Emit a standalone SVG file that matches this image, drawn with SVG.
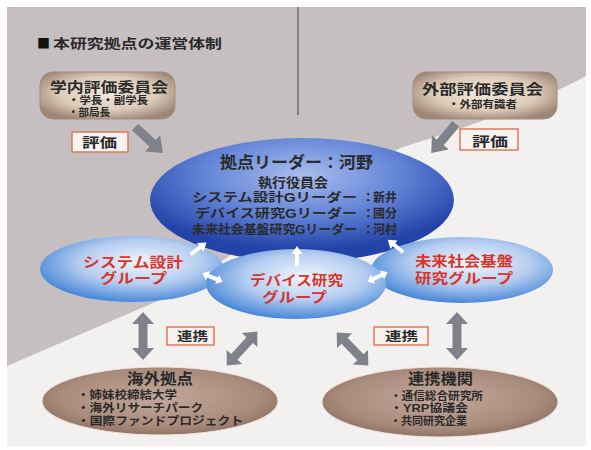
<svg xmlns="http://www.w3.org/2000/svg" width="591" height="450" viewBox="0 0 591 450">
<defs>
<style>
text{font-family:"Liberation Sans","Noto Sans CJK JP",sans-serif;font-weight:bold;fill:#2b2a2b}
.cjk{font-family:"Noto Sans CJK JP",sans-serif}
.red{fill:#d9342b}
.tag{fill:#f6f3f0;stroke:#e0785a;stroke-width:1.5}
.garrow{fill:#7f828a}
.warrow{fill:#ffffff}
</style>
<radialGradient id="gBox" cx="0.5" cy="0.45" r="0.6">
<stop offset="0" stop-color="#f1e8dc"/><stop offset="0.6" stop-color="#dccbb8"/><stop offset="1" stop-color="#9e8676"/>
</radialGradient>
<radialGradient id="gBlue" cx="0.5" cy="0.3" r="0.6">
<stop offset="0" stop-color="#a9bdee"/><stop offset="0.55" stop-color="#6283d6"/><stop offset="1" stop-color="#2343a8"/>
</radialGradient>
<radialGradient id="gGroup" cx="0.55" cy="0.4" r="0.6">
<stop offset="0" stop-color="#f2f6fc"/><stop offset="0.55" stop-color="#b5cdf0"/><stop offset="1" stop-color="#4a89d8"/>
</radialGradient>
<radialGradient id="gBrown" cx="0.5" cy="0.45" r="0.6">
<stop offset="0" stop-color="#c2a89b"/><stop offset="0.7" stop-color="#a98b7c"/><stop offset="1" stop-color="#8a6c5e"/>
</radialGradient>
<path id="dbl" d="M-24,0 L-12,-11 L-12,-4.5 L12,-4.5 L12,-11 L24,0 L12,11 L12,4.5 L-12,4.5 L-12,11 Z"/>
<path id="sgl" d="M-19,-4.5 L5,-4.5 L5,-11 L19,0 L5,11 L5,4.5 L-19,4.5 Z"/>
<path id="wsgl" d="M-10,-2 L2,-2 L2,-5.5 L10,0 L2,5.5 L2,2 L-10,2 Z"/>
<path id="wdbl" d="M-11,0 L-5,-5 L-5,-2 L5,-2 L5,-5 L11,0 L5,5 L5,2 L-5,2 L-5,5 Z"/>
</defs>

<rect width="591" height="450" fill="#ffffff"/>
<rect x="7" y="7" width="579" height="439" fill="#c6bfc1"/>
<path d="M586,76 C545,98 480,124 400,148 L160,300 L7,366 L7,446 L586,446 Z" fill="#f2f1ef"/>
<line x1="298" y1="7" x2="298" y2="115" stroke="#6d6a6b" stroke-width="1.5"/>

<text x="37" y="48" font-size="13"><tspan class="cjk" fill="#111">■</tspan><tspan x="53" textLength="169" lengthAdjust="spacingAndGlyphs">本研究拠点の運営体制</tspan></text>

<g id="internal-eval">
<rect x="40" y="72" width="135" height="47" rx="13" fill="url(#gBox)" stroke="#a38d7c" stroke-width="1"/>
<text x="50" y="92" font-size="14" textLength="118" lengthAdjust="spacingAndGlyphs">学内評価委員会</text>
<text x="68" y="104" font-size="10.5" textLength="80" lengthAdjust="spacingAndGlyphs">・学長・副学長</text>
<text x="68" y="116" font-size="10.5" textLength="42" lengthAdjust="spacingAndGlyphs">・部局長</text>
</g>

<g id="external-eval">
<rect x="413" y="72" width="144" height="47" rx="13" fill="url(#gBox)" stroke="#a38d7c" stroke-width="1"/>
<text x="422" y="94" font-size="14" textLength="121" lengthAdjust="spacingAndGlyphs">外部評価委員会</text>
<text x="448" y="108" font-size="10.5" textLength="69" lengthAdjust="spacingAndGlyphs">・外部有識者</text>
</g>

<g id="connectors">
<use href="#sgl" class="garrow" transform="translate(149,140) rotate(43)"/>
<use href="#sgl" class="garrow" transform="translate(443.5,138.5) rotate(130)"/>
<use href="#dbl" class="garrow" transform="translate(143,336) rotate(90)"/>
<use href="#dbl" class="garrow" transform="translate(457,336) rotate(90)"/>
<use href="#dbl" class="garrow" transform="translate(242,348.5) rotate(-48) scale(0.95)"/>
<use href="#dbl" class="garrow" transform="translate(352.5,349) rotate(46) scale(0.95)"/>
</g>

<g id="tag-eval-left">
<rect x="72" y="132" width="56" height="20" class="tag"/>
<text x="82" y="147" font-size="13" textLength="35" lengthAdjust="spacingAndGlyphs">評価</text>
</g>
<g id="tag-eval-right">
<rect x="460" y="129" width="58" height="21" class="tag"/>
<text x="472" y="146" font-size="13" textLength="36" lengthAdjust="spacingAndGlyphs">評価</text>
</g>

<g id="leader">
<ellipse cx="302" cy="200" rx="152" ry="62" fill="url(#gBlue)"/>
<text x="220" y="168" font-size="16" textLength="153" lengthAdjust="spacingAndGlyphs">拠点リーダー：河野</text>
<text x="258" y="187" font-size="13" textLength="70" lengthAdjust="spacingAndGlyphs">執行役員会</text>
<text x="192" y="202" font-size="12.5"><tspan textLength="165" lengthAdjust="spacingAndGlyphs">システム設計Gリーダー</tspan><tspan x="362">：</tspan><tspan x="373" textLength="24" lengthAdjust="spacingAndGlyphs">新井</tspan></text>
<text x="195" y="218" font-size="12.5"><tspan textLength="162" lengthAdjust="spacingAndGlyphs">デバイス研究Gリーダー</tspan><tspan x="362">：</tspan><tspan x="373" textLength="24" lengthAdjust="spacingAndGlyphs">國分</tspan></text>
<text x="192" y="234" font-size="12.5"><tspan textLength="165" lengthAdjust="spacingAndGlyphs">未来社会基盤研究Gリーダー</tspan><tspan x="362">：</tspan><tspan x="373" textLength="24" lengthAdjust="spacingAndGlyphs">河村</tspan></text>
</g>

<g id="system-group">
<ellipse cx="132" cy="269" rx="92" ry="33" fill="url(#gGroup)"/>
<text x="83" y="267" font-size="14" class="red" textLength="100" lengthAdjust="spacingAndGlyphs">システム設計</text>
<text x="100" y="283" font-size="14" class="red" textLength="67" lengthAdjust="spacingAndGlyphs">グループ</text>
</g>

<g id="future-group">
<ellipse cx="462" cy="270" rx="91" ry="33" fill="url(#gGroup)"/>
<text x="415" y="266" font-size="14" class="red" textLength="98" lengthAdjust="spacingAndGlyphs">未来社会基盤</text>
<text x="415" y="283" font-size="14" class="red" textLength="98" lengthAdjust="spacingAndGlyphs">研究グループ</text>
</g>

<g id="device-group">
<ellipse cx="296" cy="284" rx="90" ry="35" fill="url(#gGroup)"/>
<text x="250" y="285" font-size="14" class="red" textLength="93" lengthAdjust="spacingAndGlyphs">デバイス研究</text>
<text x="262" y="302" font-size="14" class="red" textLength="65" lengthAdjust="spacingAndGlyphs">グループ</text>
</g>

<g id="white-arrows">
<use href="#wsgl" class="warrow" transform="translate(198.5,248.5) rotate(-37)"/>
<use href="#wsgl" class="warrow" transform="translate(297,256) rotate(-90)"/>
<use href="#wsgl" class="warrow" transform="translate(395.5,246) rotate(-141)"/>
<use href="#wdbl" class="warrow" transform="translate(212.5,277.5) rotate(23)"/>
<use href="#wdbl" class="warrow" transform="translate(377.5,277) rotate(-25)"/>
</g>

<g id="tag-collab-left">
<rect x="167" y="327" width="47" height="18" class="tag"/>
<text x="177" y="341" font-size="12" textLength="31" lengthAdjust="spacingAndGlyphs">連携</text>
</g>
<g id="tag-collab-right">
<rect x="374" y="327" width="54" height="18" class="tag"/>
<text x="385" y="341" font-size="12" textLength="33" lengthAdjust="spacingAndGlyphs">連携</text>
</g>

<g id="overseas">
<ellipse cx="160" cy="401" rx="118" ry="34" fill="url(#gBrown)" stroke="#efe4dc" stroke-width="1"/>
<text x="127" y="384" font-size="15" textLength="66" lengthAdjust="spacingAndGlyphs">海外拠点</text>
<text x="77" y="399" font-size="11.5" textLength="100" lengthAdjust="spacingAndGlyphs">・姉妹校締結大学</text>
<text x="77" y="412" font-size="11.5" textLength="126" lengthAdjust="spacingAndGlyphs">・海外リサーチパーク</text>
<text x="77" y="425" font-size="11.5" textLength="166" lengthAdjust="spacingAndGlyphs">・国際ファンドプロジェクト</text>
</g>

<g id="partners">
<ellipse cx="440" cy="402" rx="118" ry="35" fill="url(#gBrown)" stroke="#efe4dc" stroke-width="1"/>
<text x="408" y="384" font-size="15" textLength="65" lengthAdjust="spacingAndGlyphs">連携機関</text>
<text x="390" y="399.5" font-size="11" textLength="93" lengthAdjust="spacingAndGlyphs">・通信総合研究所</text>
<text x="390" y="412" font-size="11" textLength="78" lengthAdjust="spacingAndGlyphs">・YRP協議会</text>
<text x="390" y="425" font-size="11" textLength="77" lengthAdjust="spacingAndGlyphs">・共同研究企業</text>
</g>
</svg>
